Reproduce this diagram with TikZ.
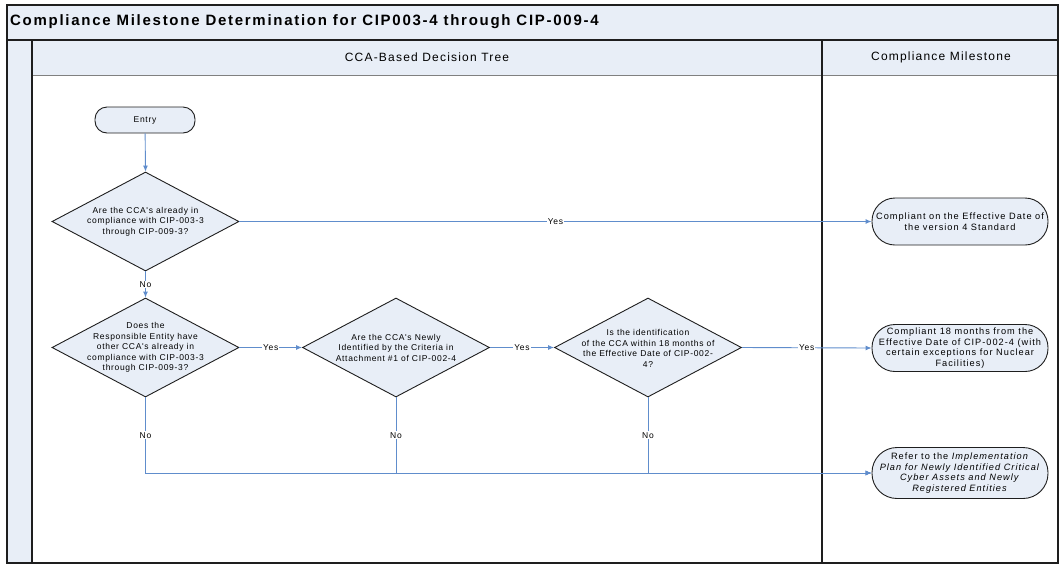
\documentclass[tikz,border=0pt]{standalone}
\usepackage{fontspec}
\setmainfont{Liberation Sans}
\newfontfamily\bodyfont{Liberation Sans}[LetterSpace=8]
\newfontfamily\msfont{Liberation Sans}[LetterSpace=11]
\newfontfamily\hdrfont{Liberation Sans}[LetterSpace=10]
\newfontfamily\titlefont{Liberation Sans}[LetterSpace=11.5]
\usetikzlibrary{shapes.geometric,arrows.meta}
\definecolor{paleblue}{RGB}{232,238,247}
\definecolor{flowblue}{RGB}{96,141,204}
\definecolor{frame}{RGB}{30,30,30}
\tikzset{
  box/.style={draw=frame, line width=0.9pt, fill=paleblue},
  smalltext/.style={font=\bodyfont\fontsize{8.5}{10.5}\selectfont},
  termnode/.style={box, smalltext, rounded corners=12pt, minimum width=100pt, minimum height=26pt, inner sep=0pt},
  milestone/.style={box, font=\msfont\fontsize{9.2}{10.5}\selectfont, rounded corners=23pt, minimum width=176pt, minimum height=47pt, inner sep=0pt, align=center},
  decision/.style={box, diamond, minimum width=187pt, minimum height=99pt, inner sep=0pt},
  dtext/.style={smalltext, align=center, inner sep=0pt},
  flow/.style={draw=flowblue, line width=0.9pt, -{Latex[length=6pt,width=5pt]}},
  flowlbl/.style={smalltext, fill=white, inner sep=1pt},
  hdr/.style={font=\hdrfont\fontsize{12}{14}\selectfont},
}
\begin{document}
\begin{tikzpicture}[x=1pt,y=-1pt]
\useasboundingbox (0,0) rectangle (1063,566);
% pool
\fill[paleblue] (7,5) rectangle (1058,75);
\fill[paleblue] (7,40) rectangle (32,563);
\draw[gray, line width=0.8pt] (32,75) -- (1058,75);
\draw[frame, line width=1.2pt] (7,40) -- (1058,40);
\draw[frame, line width=1.2pt] (32,40) -- (32,563);
\draw[frame, line width=1.2pt] (822,40) -- (822,563);
\draw[frame, line width=1.4pt] (7,5) rectangle (1058,563);
\node[anchor=west, font=\titlefont\fontsize{15}{17}\selectfont\bfseries, inner sep=0pt] (title) at (10,22) {Compliance Milestone Determination for CIP003-4 through CIP-009-4};
\node[hdr] (h1) at (427,57) {CCA-Based Decision Tree};
\node[hdr] (h2) at (941,57) {Compliance Milestone};

% nodes
\node[termnode] (entry) at (145,120) {Entry};
\node[decision] (d1) at (145.5,221.5) {};
\node[dtext] at (d1) {Are the CCA's already in\\compliance with CIP-003-3\\through CIP-009-3?};
\node[decision] (d2) at (145.5,347.5) {};
\node[dtext] at (d2) {Does the\\Responsible Entity have\\other CCA's already in\\compliance with CIP-003-3\\through CIP-009-3?};
\node[decision] (d3) at (396,347.5) {};
\node[dtext] at (d3) {Are the CCA's Newly\\Identified by the Criteria in\\Attachment \#1 of CIP-002-4};
\node[decision] (d4) at (648,347.5) {};
\node[dtext] at ([yshift=-1pt]d4) {Is the identification\\of the CCA within 18 months of\\the Effective Date of CIP-002-\\4?};
\node[milestone] (t1) at (960,221.5) {Compliant on the Effective Date of\\the version 4 Standard};
\node[milestone] (t2) at (960,348) {Compliant 18 months from the\\Effective Date of CIP-002-4 (with\\certain exceptions for Nuclear\\Facilities)};
\node[milestone, minimum height=51pt, rounded corners=25pt] (t3) at (960,473) {Refer to the \textit{Implementation}\\\textit{Plan for Newly Identified Critical}\\\textit{Cyber Assets and Newly}\\\textit{Registered Entities}};

% connectors
\draw[flow] (entry) -- (d1.north);
\draw[flow] (d1.south) -- node[flowlbl]{No} (d2.north);
\draw[flow] (d1.east) -- node[flowlbl]{Yes} (t1.west);
\draw[flow] (d2.east) -- node[flowlbl]{Yes} (d3.west);
\draw[flow] (d3.east) -- node[flowlbl]{Yes} (d4.west);
\draw[flow] (d4.east) -- node[flowlbl]{Yes} (t2.west);
\draw[flow] (d2.south) |- node[flowlbl, pos=0.25]{No} (t3.west);
\draw[flow] (d3.south) |- node[flowlbl, pos=0.25]{No} (t3.west);
\draw[flow] (d4.south) |- node[flowlbl, pos=0.25]{No} (t3.west);
\end{tikzpicture}
\end{document}
